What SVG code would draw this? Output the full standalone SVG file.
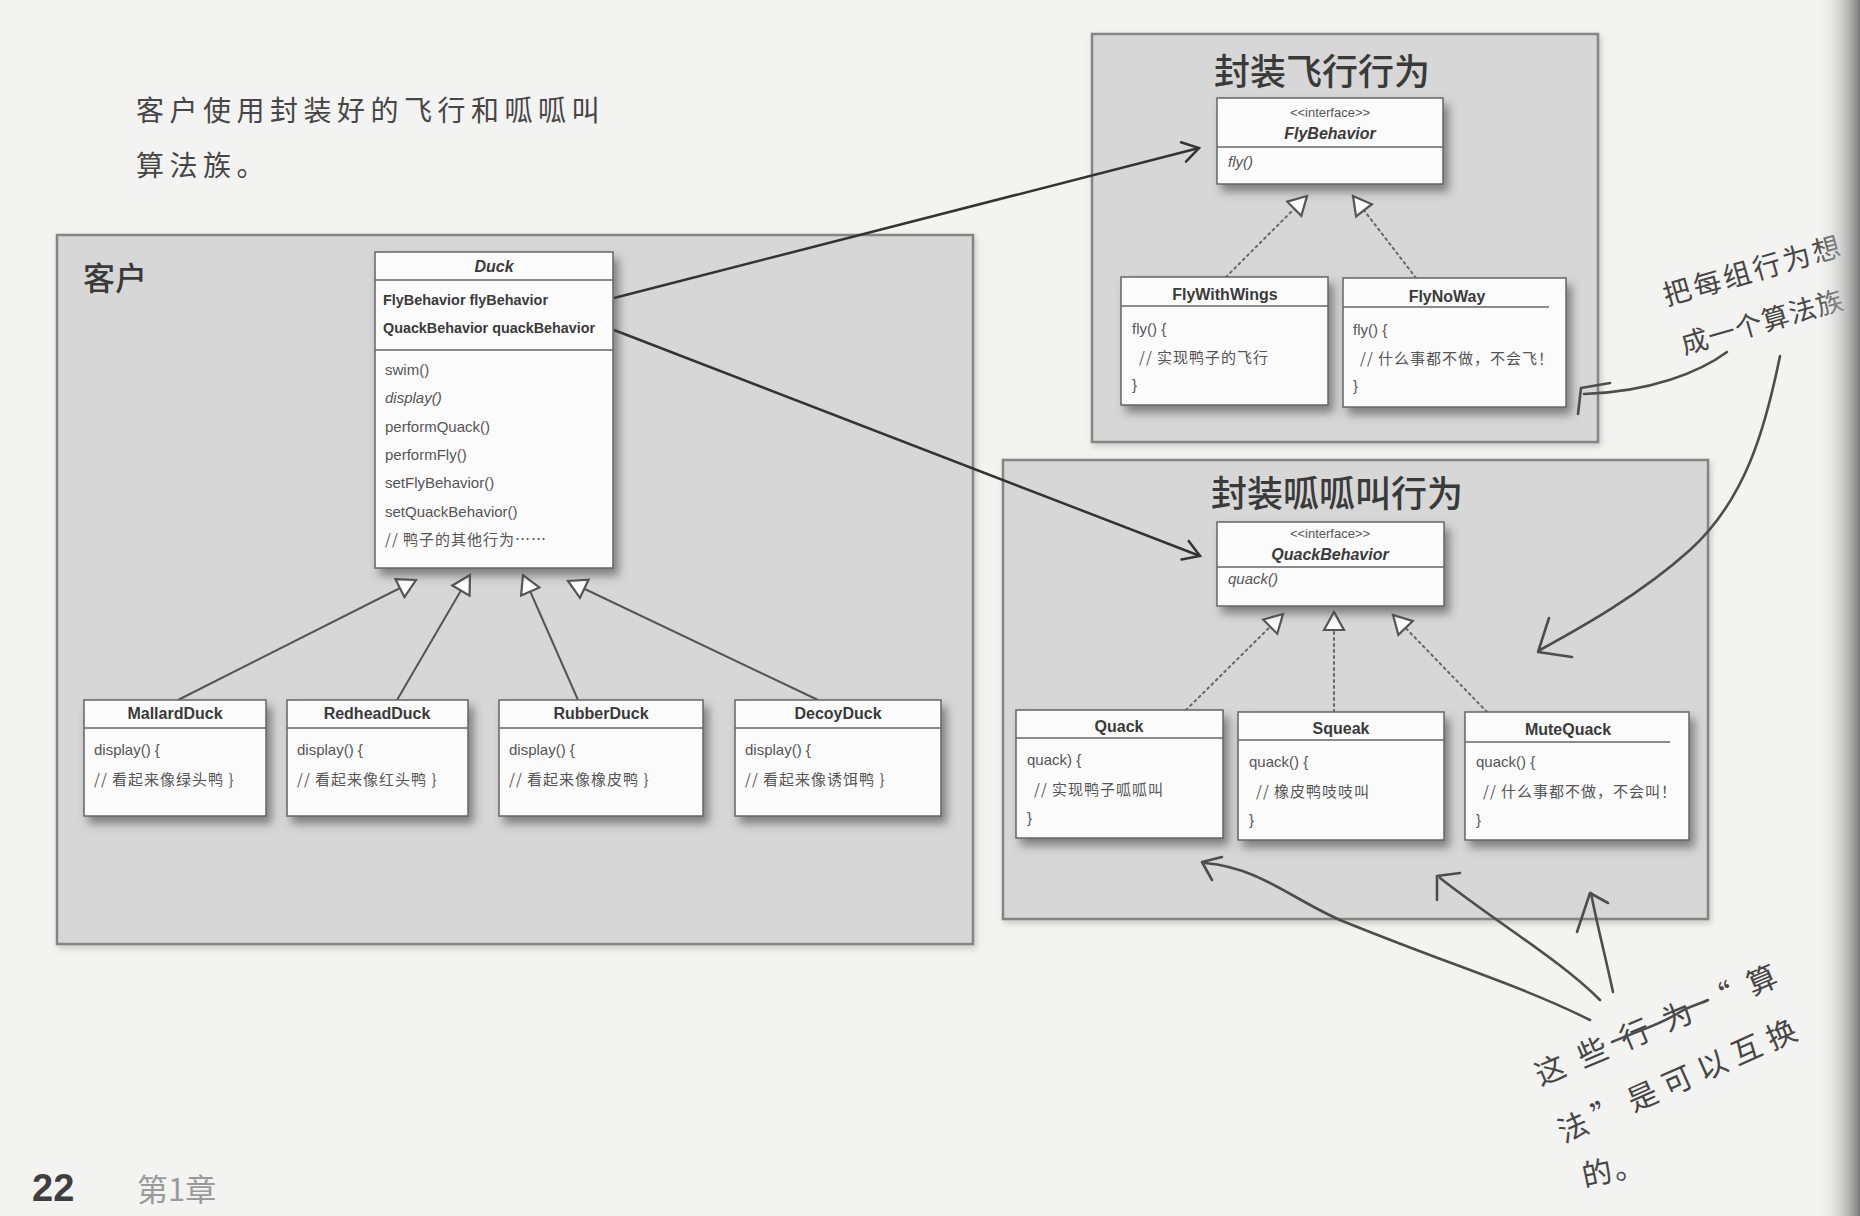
<svg xmlns="http://www.w3.org/2000/svg" width="1860" height="1216" viewBox="0 0 1860 1216">
<defs>
<style>
.bg{fill:#f3f3f1}
.grp{fill:#d7d7d7;stroke:#858585;stroke-width:2.5}
.cls{fill:#fbfbfb;stroke:#666;stroke-width:1.5}
.div{stroke:#666;stroke-width:1.5;fill:none}
.t{font-family:"Liberation Sans",Arial,"Noto Sans CJK SC",sans-serif;fill:#3a3a3a}
.nm{font-size:16px;font-weight:bold;text-anchor:middle}
.at{font-size:15px;font-weight:bold}
.mt{font-size:15px;fill:#555}
.cj{font-family:"Noto Sans CJK SC",sans-serif;font-size:15px;letter-spacing:1px;fill:#555}
.it{font-style:italic}
.st{font-size:13px;text-anchor:middle;fill:#555}
.gt{font-family:"Noto Sans CJK SC",sans-serif;font-weight:500;fill:#3a3a3a}
.hw{font-family:"Noto Sans CJK SC",sans-serif;font-weight:400;fill:#464646}
.gen{stroke:#555;stroke-width:2;fill:none}
.real{stroke:#666;stroke-width:2;fill:none;stroke-dasharray:2 4;stroke-linecap:round}
.assoc{stroke:#333;stroke-width:2.5;fill:none}
.hand{stroke:#4d4d4d;stroke-width:2.6;fill:none;stroke-linecap:round;stroke-linejoin:round}
</style>
<filter id="sh" x="-10%" y="-10%" width="130%" height="130%">
<feDropShadow dx="5" dy="7" stdDeviation="5" flood-color="#444" flood-opacity="0.6"/>
</filter>
<filter id="gsh" x="-5%" y="-5%" width="110%" height="110%">
<feDropShadow dx="2" dy="3" stdDeviation="3" flood-color="#777" flood-opacity="0.35"/>
</filter>
<marker id="tri" markerUnits="userSpaceOnUse" markerWidth="24" markerHeight="24" viewBox="-20 -12 24 24" refX="0" refY="0" orient="auto">
<path d="M-18,-10 L0,0 L-18,10 Z" fill="#fff" stroke="#555" stroke-width="2.2" stroke-linejoin="miter"/>
</marker>
<marker id="vee" markerUnits="userSpaceOnUse" markerWidth="24" markerHeight="24" viewBox="-20 -12 24 24" refX="0" refY="0" orient="auto">
<path d="M-16,-10 L0,0 L-16,10" fill="none" stroke="#333" stroke-width="2.5" stroke-linecap="round"/>
</marker>
<linearGradient id="gut" x1="0" y1="0" x2="1" y2="0">
<stop offset="0" stop-color="#f3f3f1" stop-opacity="0"/>
<stop offset="0.6" stop-color="#b5b5b5" stop-opacity="0.6"/>
<stop offset="1" stop-color="#6a6a6a" stop-opacity="0.9"/>
</linearGradient>
</defs>

<rect class="bg" x="0" y="0" width="1860" height="1216"/>

<!-- group boxes -->
<g id="client-group">
<rect class="grp" x="57" y="235" width="916" height="709" filter="url(#gsh)"/>
<text class="gt" x="83" y="290" font-size="32">客户</text>
</g>
<g id="fly-group">
<rect class="grp" x="1092" y="34" width="506" height="408" filter="url(#gsh)"/>
<text class="gt" x="1322" y="85" font-size="36" text-anchor="middle">封装飞行行为</text>
</g>
<g id="quack-group">
<rect class="grp" x="1003" y="460" width="705" height="459" filter="url(#gsh)"/>
<text class="gt" x="1337" y="507" font-size="36" text-anchor="middle">封装呱呱叫行为</text>
</g>

<!-- connectors -->
<g id="connectors">
<line class="gen" x1="178" y1="700" x2="416" y2="580" marker-end="url(#tri)"/>
<line class="gen" x1="397" y1="700" x2="470" y2="575" marker-end="url(#tri)"/>
<line class="gen" x1="578" y1="700" x2="523" y2="575" marker-end="url(#tri)"/>
<line class="gen" x1="818" y1="700" x2="568" y2="581" marker-end="url(#tri)"/>
<line class="real" x1="1226" y1="277" x2="1307" y2="196" marker-end="url(#tri)"/>
<line class="real" x1="1416" y1="278" x2="1353" y2="196" marker-end="url(#tri)"/>
<line class="real" x1="1186" y1="710" x2="1283" y2="614" marker-end="url(#tri)"/>
<line class="real" x1="1334" y1="712" x2="1334" y2="612" marker-end="url(#tri)"/>
<line class="real" x1="1487" y1="712" x2="1393" y2="615" marker-end="url(#tri)"/>
<line class="assoc" x1="614" y1="298" x2="1199" y2="148" marker-end="url(#vee)"/>
<line class="assoc" x1="614" y1="330" x2="1200" y2="556" marker-end="url(#vee)"/>
</g>

<!-- Duck -->
<g id="duck">
<rect class="cls" x="375" y="252" width="238" height="316" filter="url(#sh)"/>
<path class="div" d="M375,280 H613 M375,350 H613"/>
<text class="t nm it" x="494" y="272">Duck</text>
<text class="t at" x="383" y="305" textLength="165" lengthAdjust="spacingAndGlyphs">FlyBehavior flyBehavior</text>
<text class="t at" x="383" y="333" textLength="212" lengthAdjust="spacingAndGlyphs">QuackBehavior quackBehavior</text>
<text class="t mt" x="385" y="375">swim()</text>
<text class="t mt it" x="385" y="403">display()</text>
<text class="t mt" x="385" y="432">performQuack()</text>
<text class="t mt" x="385" y="460">performFly()</text>
<text class="t mt" x="385" y="488">setFlyBehavior()</text>
<text class="t mt" x="385" y="517">setQuackBehavior()</text>
<text class="cj" x="385" y="545">// 鸭子的其他行为……</text>
</g>

<g id="mallardduck">
<rect class="cls" x="84" y="700" width="182" height="116" filter="url(#sh)"/>
<path class="div" d="M84,728 H266"/>
<text class="t nm" x="175" y="719">MallardDuck</text>
<text class="t mt" x="94" y="755">display() {</text>
<text class="cj" x="94" y="785">// 看起来像绿头鸭 }</text>
</g>
<g id="redheadduck">
<rect class="cls" x="287" y="700" width="181" height="116" filter="url(#sh)"/>
<path class="div" d="M287,728 H468"/>
<text class="t nm" x="377" y="719">RedheadDuck</text>
<text class="t mt" x="297" y="755">display() {</text>
<text class="cj" x="297" y="785">// 看起来像红头鸭 }</text>
</g>
<g id="rubberduck">
<rect class="cls" x="499" y="700" width="204" height="116" filter="url(#sh)"/>
<path class="div" d="M499,728 H703"/>
<text class="t nm" x="601" y="719">RubberDuck</text>
<text class="t mt" x="509" y="755">display() {</text>
<text class="cj" x="509" y="785">// 看起来像橡皮鸭 }</text>
</g>
<g id="decoyduck">
<rect class="cls" x="735" y="700" width="206" height="116" filter="url(#sh)"/>
<path class="div" d="M735,728 H941"/>
<text class="t nm" x="838" y="719">DecoyDuck</text>
<text class="t mt" x="745" y="755">display() {</text>
<text class="cj" x="745" y="785">// 看起来像诱饵鸭 }</text>
</g>

<!-- Fly behaviors -->
<g id="flybehavior">
<rect class="cls" x="1217" y="98" width="226" height="86" filter="url(#sh)"/>
<path class="div" d="M1217,147 H1443"/>
<text class="t st" x="1330" y="117">&lt;&lt;interface&gt;&gt;</text>
<text class="t nm it" x="1330" y="139">FlyBehavior</text>
<text class="t mt it" x="1228" y="167" font-size="14">fly()</text>
</g>
<g id="flywithwings">
<rect class="cls" x="1121" y="277" width="207" height="128" filter="url(#sh)"/>
<path class="div" d="M1121,306 H1328"/>
<text class="t nm" x="1225" y="300">FlyWithWings</text>
<text class="t mt" x="1132" y="334">fly() {</text>
<text class="cj" x="1139" y="363">// 实现鸭子的飞行</text>
<text class="t mt" x="1132" y="390">}</text>
</g>
<g id="flynoway">
<rect class="cls" x="1343" y="278" width="223" height="129" filter="url(#sh)"/>
<path class="div" d="M1343,307 H1549"/>
<text class="t nm" x="1447" y="302">FlyNoWay</text>
<text class="t mt" x="1353" y="335">fly() {</text>
<text class="cj" x="1360" y="364">// 什么事都不做，不会飞！</text>
<text class="t mt" x="1353" y="391">}</text>
</g>

<!-- Quack behaviors -->
<g id="quackbehavior">
<rect class="cls" x="1217" y="522" width="227" height="84" filter="url(#sh)"/>
<path class="div" d="M1217,567 H1444"/>
<text class="t st" x="1330" y="538">&lt;&lt;interface&gt;&gt;</text>
<text class="t nm it" x="1330" y="560">QuackBehavior</text>
<text class="t mt it" x="1228" y="584" font-size="14">quack()</text>
</g>
<g id="quack">
<rect class="cls" x="1016" y="710" width="207" height="128" filter="url(#sh)"/>
<path class="div" d="M1016,738 H1223"/>
<text class="t nm" x="1119" y="732">Quack</text>
<text class="t mt" x="1027" y="765">quack) {</text>
<text class="cj" x="1034" y="795">// 实现鸭子呱呱叫</text>
<text class="t mt" x="1027" y="823">}</text>
</g>
<g id="squeak">
<rect class="cls" x="1238" y="712" width="206" height="128" filter="url(#sh)"/>
<path class="div" d="M1238,740 H1444"/>
<text class="t nm" x="1341" y="734">Squeak</text>
<text class="t mt" x="1249" y="767">quack() {</text>
<text class="cj" x="1256" y="797">// 橡皮鸭吱吱叫</text>
<text class="t mt" x="1249" y="825">}</text>
</g>
<g id="mutequack">
<rect class="cls" x="1465" y="712" width="224" height="128" filter="url(#sh)"/>
<path class="div" d="M1465,742 H1670"/>
<text class="t nm" x="1568" y="735">MuteQuack</text>
<text class="t mt" x="1476" y="767">quack() {</text>
<text class="cj" x="1483" y="797">// 什么事都不做，不会叫！</text>
<text class="t mt" x="1476" y="825">}</text>
</g>

<!-- handwritten annotations -->
<g id="note-client">
<text class="hw" x="136" y="121" font-size="28" letter-spacing="5.5">客户使用封装好的飞行和呱呱叫</text>
<text class="hw" x="136" y="176" font-size="28" letter-spacing="5.5">算法族。</text>
</g>
<g id="note-family">
<text class="hw" transform="translate(1678,291) rotate(-16)" x="-15" y="11" font-size="28" letter-spacing="3">把每组行为想</text>
<text class="hw" transform="translate(1695,341) rotate(-16)" x="-14" y="10" font-size="27" letter-spacing="1">成一个算法族</text>
<path class="hand" d="M1727,352 C1700,372 1650,392 1584,394"/>
<path class="hand" d="M1610,383 L1581,388 L1578,414"/>
<path class="hand" d="M1780,356 C1765,430 1745,500 1690,550 C1640,595 1580,628 1540,650"/>
<path class="hand" d="M1549,618 L1538,652 L1572,657"/>
</g>
<g id="note-swap">
<text class="hw" transform="translate(1550,1070) rotate(-23)" x="-15" y="11" font-size="30" letter-spacing="16">这些行为“算</text>
<path class="hand" d="M1612,1042 C1640,1030 1660,1025 1680,1012 C1690,1006 1700,1004 1708,1000" stroke-width="3"/>
<text class="hw" transform="translate(1573,1127) rotate(-24)" x="-15" y="11" font-size="30" letter-spacing="8">法”是可以互换</text>
<text class="hw" transform="translate(1597,1173) rotate(-12)" x="-15" y="11" font-size="30" letter-spacing="2">的。</text>
<path class="hand" d="M1590,1020 C1520,985 1450,965 1340,920 C1290,898 1260,868 1205,863"/>
<path class="hand" d="M1222,857 L1202,862 L1212,880"/>
<path class="hand" d="M1600,1000 C1560,960 1500,925 1440,878"/>
<path class="hand" d="M1460,873 L1437,876 L1437,900"/>
<path class="hand" d="M1613,992 C1605,955 1596,920 1591,893"/>
<path class="hand" d="M1608,903 L1590,893 L1577,932"/>
</g>

<g id="footer">
<text x="32" y="1201" font-family="Liberation Sans,Arial,sans-serif" font-weight="bold" font-size="38" fill="#3e3e3e">22</text>
<text x="137" y="1201" font-family="Noto Sans CJK SC,sans-serif" font-size="31" fill="#9a9a9a">第1章</text>
</g>

<rect x="1815" y="0" width="45" height="1216" fill="url(#gut)"/>
</svg>
